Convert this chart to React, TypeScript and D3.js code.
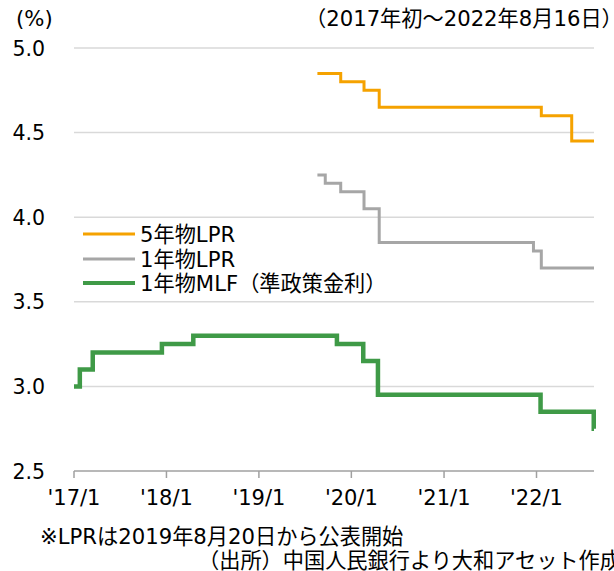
import { useEffect, useRef } from "react";
import { select, scaleTime, scaleLinear, line, curveStepAfter, timeParse } from "d3";

// 1年物MLF (準政策金利)
const mlfDates = ["2017-01-01", "2017-01-24", "2017-03-16", "2017-12-14", "2018-04-17", "2019-11-05", "2020-02-17", "2020-04-15", "2022-01-17", "2022-08-15", "2022-08-16"];
const mlfValues = [3.0, 3.1, 3.2, 3.25, 3.3, 3.25, 3.15, 2.95, 2.85, 2.75, 2.75];

// 1年物LPR
const lpr1Dates = ["2019-08-20", "2019-09-20", "2019-11-20", "2020-02-20", "2020-04-20", "2021-12-20", "2022-01-20", "2022-08-16"];
const lpr1Values = [4.25, 4.2, 4.15, 4.05, 3.85, 3.8, 3.7, 3.7];

// 5年物LPR
const lpr5Dates = ["2019-08-20", "2019-11-20", "2020-02-20", "2020-04-20", "2022-01-20", "2022-05-20", "2022-08-16"];
const lpr5Values = [4.85, 4.8, 4.75, 4.65, 4.6, 4.45, 4.45];

const yTicks = [2.5, 3.0, 3.5, 4.0, 4.5, 5.0];
const xTickDates = ["2017-01-01", "2018-01-01", "2019-01-01", "2020-01-01", "2021-01-01", "2022-01-01"];
const xTickLabels = ["'17/1", "'18/1", "'19/1", "'20/1", "'21/1", "'22/1"];

const seriesNames = ["5年物LPR", "1年物LPR", "1年物MLF（準政策金利）"];

const FONT = "'DejaVu Sans', 'Noto Sans CJK JP', sans-serif";
const TXT = 21.2; // notes / legend size

function App() {
  const svgRef = useRef<SVGSVGElement>(null);

  useEffect(() => {
    const W = 614;
    const H = 571;
    const margin = { top: 48, right: 20, bottom: 100, left: 74 };
    const parse = timeParse("%Y-%m-%d");

    const svg = select(svgRef.current).attr("width", W).attr("height", H);
    svg.selectAll("*").remove();

    const x = scaleTime()
      .domain([parse("2017-01-01") as Date, parse("2022-08-16") as Date])
      .range([margin.left, W - margin.right]);
    const y = scaleLinear().domain([2.5, 5.0]).range([H - margin.bottom, margin.top]);

    // grid
    svg
      .append("g")
      .selectAll("line")
      .data(yTicks.filter((d) => d > 2.5))
      .join("line")
      .attr("x1", x.range()[0])
      .attr("x2", x.range()[1])
      .attr("y1", (d) => y(d))
      .attr("y2", (d) => y(d))
      .attr("stroke", "#d9d9d9")
      .attr("stroke-width", 1.5);

    // y labels
    svg
      .append("g")
      .selectAll("text")
      .data(yTicks)
      .join("text")
      .attr("x", 45)
      .attr("y", (d) => y(d) + 7.5)
      .attr("text-anchor", "end")
      .attr("font-family", FONT)
      .attr("font-size", 20.5)
      .attr("fill", "#000")
      .text((d) => d.toFixed(1));

    // x axis
    const axis = svg.append("g");
    axis
      .append("line")
      .attr("x1", x.range()[0])
      .attr("x2", x.range()[1])
      .attr("y1", y(2.5))
      .attr("y2", y(2.5))
      .attr("stroke", "#a0a0a0")
      .attr("stroke-width", 1.5);
    axis
      .selectAll(".tick")
      .data(xTickDates)
      .join("line")
      .attr("class", "tick")
      .attr("x1", (d) => x(parse(d) as Date))
      .attr("x2", (d) => x(parse(d) as Date))
      .attr("y1", y(2.5))
      .attr("y2", y(2.5) + 7)
      .attr("stroke", "#a0a0a0")
      .attr("stroke-width", 1.5);
    axis
      .selectAll(".xlabel")
      .data(xTickDates)
      .join("text")
      .attr("class", "xlabel")
      .attr("x", (d) => x(parse(d) as Date))
      .attr("y", y(2.5) + 34)
      .attr("text-anchor", "middle")
      .attr("font-family", FONT)
      .attr("font-size", 21)
      .attr("fill", "#000")
      .text((d, i) => xTickLabels[i]);

    // lines
    const lineGen = line<[Date, number]>()
      .x((d) => x(d[0]))
      .y((d) => y(d[1]))
      .curve(curveStepAfter);

    const series = [
      { dates: lpr5Dates, values: lpr5Values, color: "#f5a200", width: 3 },
      { dates: lpr1Dates, values: lpr1Values, color: "#a6a6a6", width: 3 },
      { dates: mlfDates, values: mlfValues, color: "#3f9a47", width: 4.5 },
    ];

    series.forEach((s) => {
      const pts: [Date, number][] = s.dates.map((d, i) => [parse(d) as Date, s.values[i]]);
      svg
        .append("path")
        .datum(pts)
        .attr("d", lineGen)
        .attr("fill", "none")
        .attr("stroke", s.color)
        .attr("stroke-width", s.width);
    });

    // legend
    const legend = svg.append("g");
    const legendY = [234, 259, 283];
    series.forEach((s, i) => {
      legend
        .append("line")
        .attr("x1", 83)
        .attr("x2", 135)
        .attr("y1", legendY[i])
        .attr("y2", legendY[i])
        .attr("stroke", s.color)
        .attr("stroke-width", i === 2 ? 4 : 3);
      legend
        .append("text")
        .attr("x", 140)
        .attr("y", legendY[i] + 7.5)
        .attr("font-family", FONT)
        .attr("font-size", TXT)
        .attr("fill", "#000")
        .text(seriesNames[i]);
    });

    // titles & notes
    svg
      .append("text")
      .attr("x", 16)
      .attr("y", 26)
      .attr("font-family", FONT)
      .attr("font-size", TXT)
      .text("(%)");
    svg
      .append("text")
      .attr("x", 305)
      .attr("y", 26)
      .attr("font-family", FONT)
      .attr("font-size", TXT)
      .text("（2017年初～2022年8月16日）");
    svg
      .append("text")
      .attr("x", 40)
      .attr("y", 544)
      .attr("font-family", FONT)
      .attr("font-size", TXT)
      .text("※LPRは2019年8月20日から公表開始");
    svg
      .append("text")
      .attr("x", 198)
      .attr("y", 568)
      .attr("font-family", FONT)
      .attr("font-size", TXT)
      .text("（出所）中国人民銀行より大和アセット作成");
  }, []);

  return (
    <svg
      ref={svgRef}
      style={{ position: "absolute", left: 0, top: 0, background: "#fff" }}
    ></svg>
  );
}

export default App;
